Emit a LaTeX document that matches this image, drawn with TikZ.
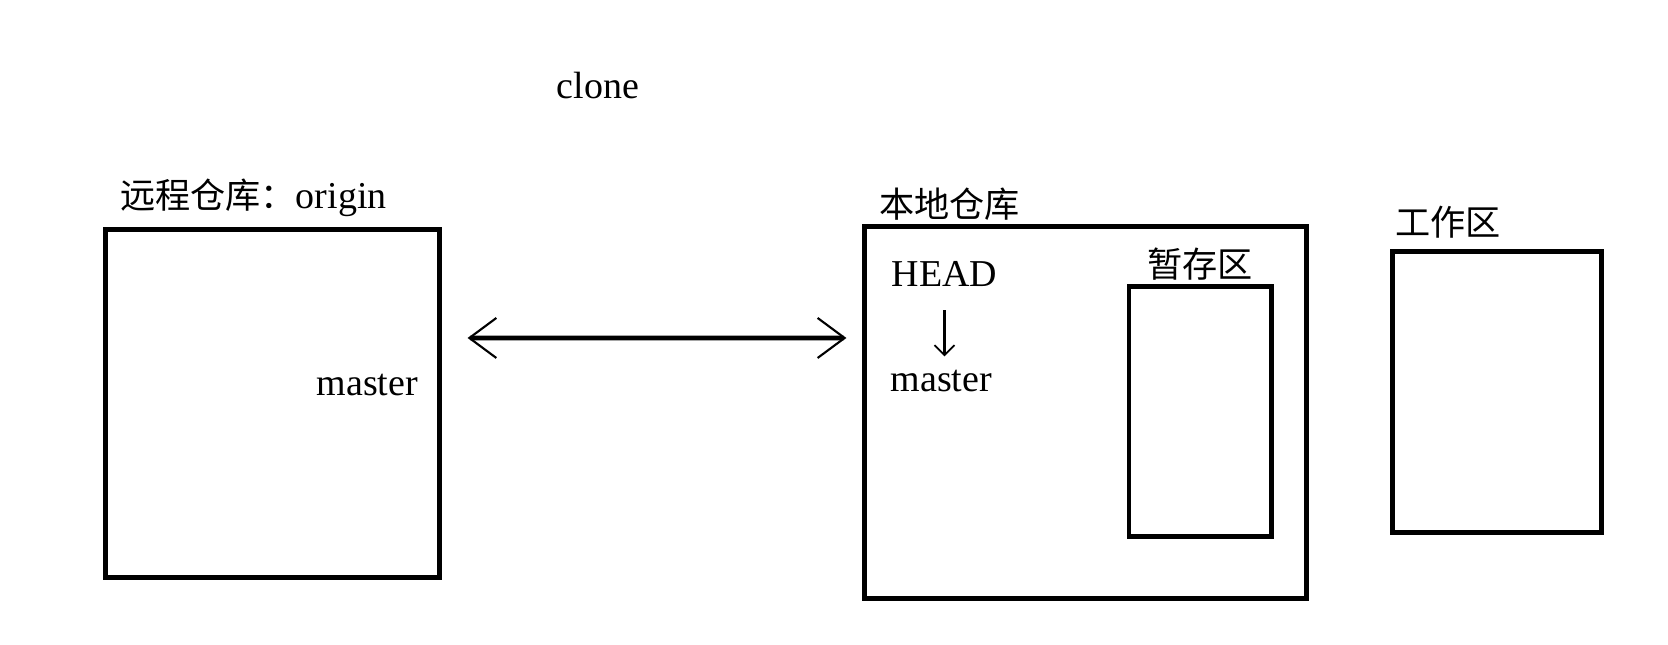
\documentclass[tikz,border=0pt]{standalone}
\usepackage{fontspec}
\setmainfont{Liberation Serif}
\newfontfamily\cjk{Noto Sans CJK SC}
\usepackage{tikz}
\usetikzlibrary{positioning}
\usetikzlibrary{arrows.meta}
\usetikzlibrary{calc}

\begin{document}
\begin{tikzpicture}[
  x=0.01cm, y=-0.01cm,
  box/.style={
    rectangle,
    draw=black,
    line width=1.4pt,
    inner sep=0pt
  },
  lbl/.style={font=\cjk\fontsize{10}{12}\selectfont, inner sep=0pt},
  txt/.style={font=\fontsize{10.8}{13}\selectfont, inner sep=0pt},
  twoway/.style={{Straight Barb[line width=0.6pt, length=0.27cm, width=0.4cm]}-{Straight Barb[line width=0.6pt, length=0.27cm, width=0.4cm]}, line width=1.4pt},
  ptr/.style={-{Straight Barb[line width=0.5pt, length=0.1cm, width=0.2cm]}, line width=0.6pt}
]
\useasboundingbox (0,0) rectangle (1668,644);

% Boxes
\node[box, minimum width=3.33cm, minimum height=3.47cm] (remote) at (272.5, 403.5) {};
\node[box, minimum width=4.41cm, minimum height=3.71cm] (local) at (1085.5, 412.5) {};
\node[box, minimum width=1.42cm, minimum height=2.49cm] (stage) at (1200, 411.5) {};
\node[box, minimum width=2.08cm, minimum height=2.80cm] (work) at (1497, 392) {};

% Box titles
\node[lbl, anchor=west] (remotelbl) at (remote.north west) [xshift=0.16cm, yshift=0.3cm]
{远程仓库：{\rmfamily\fontsize{10.8}{13}\selectfont origin}};
\node[lbl, anchor=west] (locallbl) at (local.north west) [xshift=0.16cm, yshift=0.2cm] {本地仓库};
\node[lbl] (stagelbl) at (stage.north) [yshift=0.2cm] {暂存区};
\node[lbl, anchor=west] (worklbl) at (work.north west) [xshift=0.04cm, yshift=0.27cm] {工作区};

% Branch labels
\node[txt] (clone) at (598, 85) {clone};
\node[txt, anchor=west] (rmaster) at (316, 385) {master};
\node[txt, anchor=west] (head) at (891, 274) {HEAD};
\node[txt, anchor=west] (lmaster) at (890, 381) {master};

% Arrows
\draw[twoway] ([xshift=0.26cm, yshift=0.655cm]remote.east) -- ([xshift=-0.16cm, yshift=0.745cm]local.west);
\draw[ptr] ([yshift=-0.23cm]head.south) -- ([yshift=0.13cm]head.south |- lmaster.north);
\end{tikzpicture}
\end{document}
